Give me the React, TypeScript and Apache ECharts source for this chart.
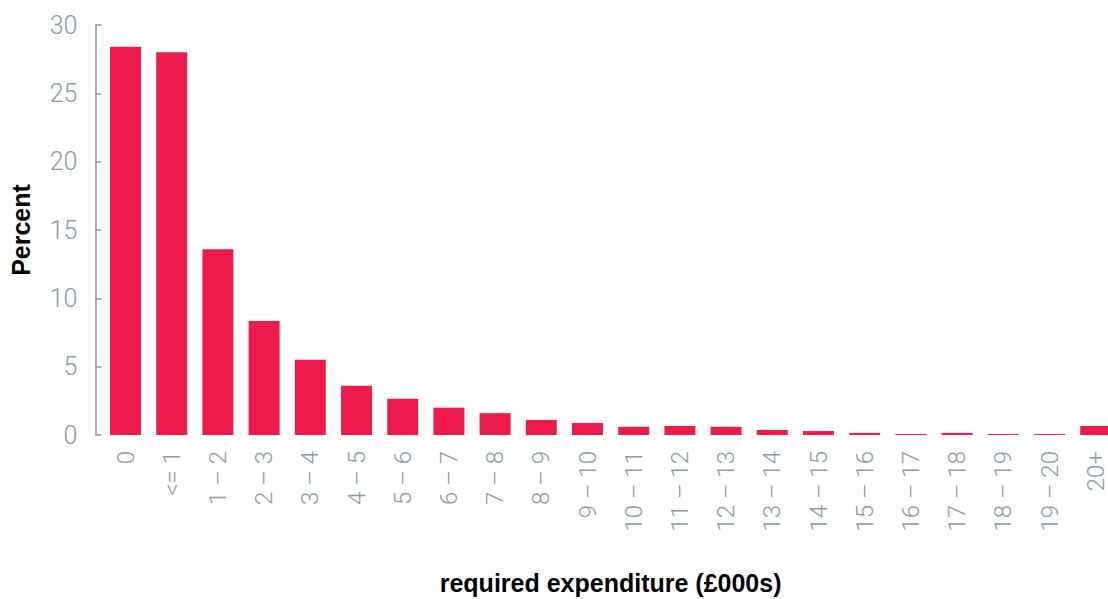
import React, { useEffect, useRef } from "react";
import * as echarts from "echarts";

const categories = ["0", "<= 1", "1 – 2", "2 – 3", "3 – 4", "4 – 5", "5 – 6", "6 – 7", "7 – 8", "8 – 9", "9 – 10", "10 – 11", "11 – 12", "12 – 13", "13 – 14", "14 – 15", "15 – 16", "16 – 17", "17 – 18", "18 – 19", "19 – 20", "20+"];
const percentValues = [28.4, 28.0, 13.6, 8.35, 5.5, 3.6, 2.65, 2.0, 1.6, 1.1, 0.88, 0.6, 0.66, 0.6, 0.37, 0.29, 0.15, 0.07, 0.15, 0.07, 0.07, 0.66];
const yTicks = { min: 0, max: 30, interval: 5 };

const GREY = "#8a9aa6";

export default function App() {
  const ref = useRef<HTMLDivElement>(null);
  useEffect(() => {
    if (!ref.current) return;
    const chart = echarts.init(ref.current, null, { renderer: "svg" });
    chart.setOption({
      animation: false,
      grid: { left: 102.4, right: -10.8, top: 25, bottom: 164, containLabel: false, outerBoundsMode: "none" },
      xAxis: {
        type: "category",
        data: categories,
        axisLine: { show: false },
        axisTick: { show: false },
        axisLabel: {
          rotate: 90,
          margin: 16,
          color: GREY,
          fontSize: 24,
          fontFamily: "Roboto",
          fontWeight: 300,
          interval: 0,
        },
        name: "required expenditure (£000s)",
        nameLocation: "middle",
        nameGap: 135,
        nameTextStyle: { color: "#000", fontSize: 25, fontWeight: "bold", fontFamily: "Liberation Sans" },
      },
      yAxis: {
        type: "value",
        min: yTicks.min,
        max: yTicks.max,
        interval: yTicks.interval,
        offset: 7,
        splitLine: { show: false },
        axisLine: { show: true, lineStyle: { color: GREY, width: 1.5 } },
        axisTick: { show: true, inside: true, length: 6, lineStyle: { color: GREY, width: 1.5 } },
        axisLabel: { color: GREY, fontSize: 25, fontFamily: "Roboto", fontWeight: 300, margin: 18 },
        name: "Percent",
        nameLocation: "middle",
        nameGap: 62,
        nameTextStyle: { color: "#000", fontSize: 25, fontWeight: "bold", fontFamily: "Liberation Sans" },
      },
      series: [
        {
          type: "bar",
          data: percentValues,
          barWidth: "67%",
          itemStyle: { color: "#ee1a4a" },
        },
      ],
    });
    return () => chart.dispose();
  }, []);
  return (
    <div
      ref={ref}
      style={{ position: "fixed", left: 0, top: 0, width: 1108, height: 599, background: "#fff" }}
    />
  );
}
